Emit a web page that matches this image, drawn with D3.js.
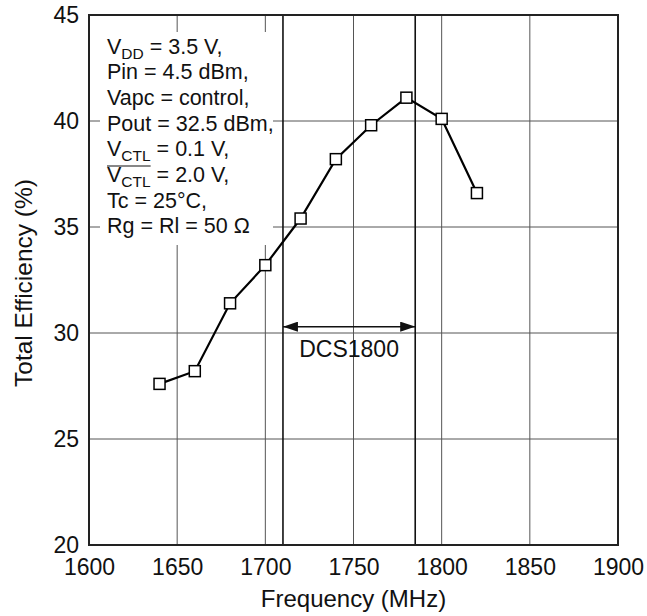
<!DOCTYPE html>
<html>
<head>
<meta charset="utf-8">
<script src="https://cdn.jsdelivr.net/npm/d3@7"></script>
<style>
  body { margin: 0; background: #fff; }
  text { font-family: "Liberation Sans", Arial, Helvetica, sans-serif; fill: #111; }
</style>
</head>
<body>
<div id="chart"></div>
<script>
// data
var freqs = [1640, 1660, 1680, 1700, 1720, 1740, 1760, 1780, 1800, 1820];
var effs = [27.6, 28.2, 31.4, 33.2, 35.4, 38.2, 39.8, 41.1, 40.1, 36.6];
var xTicks = [1600, 1650, 1700, 1750, 1800, 1850, 1900];
var yTicks = [20, 25, 30, 35, 40, 45];
var band = [1710, 1785];
var bandLabel = "DCS1800";
var bandLevel = 30.3;

// set the dimensions and margins of the graph
var margin = {top: 15, right: 29, bottom: 71, left: 89},
    width = 647 - margin.left - margin.right,
    height = 616 - margin.top - margin.bottom;

var svg = d3.select("#chart")
  .append("svg")
    .attr("width", 647)
    .attr("height", 616)
  .append("g")
    .attr("transform", "translate(" + margin.left + "," + margin.top + ")");

var x = d3.scaleLinear().domain([1600, 1900]).range([0, width]);
var y = d3.scaleLinear().domain([20, 45]).range([height, 0]);

// grid
svg.append("g")
  .selectAll("line")
  .data(xTicks.slice(1, -1))
  .enter()
  .append("line")
    .attr("x1", function(d) { return x(d); })
    .attr("x2", function(d) { return x(d); })
    .attr("y1", 0)
    .attr("y2", height)
    .attr("stroke", "#555")
    .attr("stroke-width", 1);

svg.append("g")
  .selectAll("line")
  .data(yTicks.slice(1, -1))
  .enter()
  .append("line")
    .attr("x1", 0)
    .attr("x2", width)
    .attr("y1", function(d) { return y(d); })
    .attr("y2", function(d) { return y(d); })
    .attr("stroke", "#555")
    .attr("stroke-width", 1);

// white box behind the conditions text
svg.append("rect")
  .attr("x", 11)
  .attr("y", 17)
  .attr("width", 173)
  .attr("height", 213)
  .attr("fill", "#fff");

// band edges
svg.append("g")
  .selectAll("line")
  .data(band)
  .enter()
  .append("line")
    .attr("x1", function(d) { return x(d); })
    .attr("x2", function(d) { return x(d); })
    .attr("y1", 0)
    .attr("y2", height)
    .attr("stroke", "#111")
    .attr("stroke-width", 1.6);

// axes (labels only, frame drawn below)
var xAxis = svg.append("g")
  .attr("transform", "translate(0," + height + ")")
  .call(d3.axisBottom(x).tickValues(xTicks).tickSize(0).tickPadding(14).tickFormat(d3.format("d")));
xAxis.select(".domain").remove();
xAxis.selectAll("text").style("font-size", "23px").attr("fill", "#111");

var yAxis = svg.append("g")
  .call(d3.axisLeft(y).tickValues(yTicks).tickSize(0).tickPadding(10));
yAxis.select(".domain").remove();
yAxis.selectAll("text").style("font-size", "23px").attr("fill", "#111");

// frame
svg.append("rect")
  .attr("x", 0)
  .attr("y", 0)
  .attr("width", width)
  .attr("height", height)
  .attr("fill", "none")
  .attr("stroke", "#222")
  .attr("stroke-width", 2);

// band arrow
svg.append("defs").append("marker")
  .attr("id", "arr")
  .attr("viewBox", "0 0 15 10")
  .attr("refX", 15)
  .attr("refY", 5)
  .attr("markerWidth", 15)
  .attr("markerHeight", 10)
  .attr("markerUnits", "userSpaceOnUse")
  .attr("orient", "auto-start-reverse")
  .append("path")
    .attr("d", "M0,0L15,5L0,10Z")
    .attr("fill", "#111");

svg.append("line")
  .attr("x1", x(band[0]))
  .attr("x2", x(band[1]))
  .attr("y1", y(bandLevel))
  .attr("y2", y(bandLevel))
  .attr("stroke", "#111")
  .attr("stroke-width", 1.5)
  .attr("marker-start", "url(#arr)")
  .attr("marker-end", "url(#arr)");

svg.append("text")
  .attr("x", (x(band[0]) + x(band[1])) / 2)
  .attr("y", y(bandLevel) + 30)
  .attr("text-anchor", "middle")
  .style("font-size", "23px")
  .text(bandLabel);

// efficiency curve
var line = d3.line()
  .x(function(d, i) { return x(freqs[i]); })
  .y(function(d) { return y(d); });

svg.append("path")
  .datum(effs)
  .attr("d", line)
  .attr("fill", "none")
  .attr("stroke", "#000")
  .attr("stroke-width", 2.2);

svg.selectAll("rect.pt")
  .data(effs)
  .enter()
  .append("rect")
    .attr("class", "pt")
    .attr("x", function(d, i) { return x(freqs[i]) - 5.5; })
    .attr("y", function(d) { return y(d) - 5.5; })
    .attr("width", 11)
    .attr("height", 11)
    .attr("fill", "#fff")
    .attr("stroke", "#000")
    .attr("stroke-width", 1.5);

// conditions text
var conds = [
  [["V", ""], ["DD", "sub"], [" = 3.5 V,", ""]],
  [["Pin = 4.5 dBm,", ""]],
  [["Vapc = control,", ""]],
  [["Pout = 32.5 dBm,", ""]],
  [["V", ""], ["CTL", "sub"], [" = 0.1 V,", ""]],
  [["V", ""], ["CTL", "sub"], [" = 2.0 V,", ""]],
  [["Tc = 25\u00b0C,", ""]],
  [["Rg = Rl = 50 \u03a9", ""]]
];

conds.forEach(function(parts, li) {
  var ty = 38.5 + li * 25.7;
  var t = svg.append("text")
    .attr("x", 18)
    .attr("y", ty)
    .style("font-size", "21.5px");
  var lead = 0;
  parts.forEach(function(p, pi) {
    var ts = t.append("tspan").text(p[0]);
    if (p[1] == "sub") {
      ts.attr("y", ty + 5).style("font-size", "15.5px");
    } else {
      ts.attr("y", ty);
    }
    if (pi < 2) lead += ts.node().getComputedTextLength();
  });
  // overline on the inverted control line
  if (li == 5) {
    svg.append("line")
      .attr("x1", 18)
      .attr("x2", 18 + lead)
      .attr("y1", ty - 16)
      .attr("y2", ty - 16)
      .attr("stroke", "#111")
      .attr("stroke-width", 1.2);
  }
});

// axis titles
svg.append("text")
  .attr("x", width / 2)
  .attr("y", height + 62)
  .attr("text-anchor", "middle")
  .style("font-size", "24px")
  .text("Frequency (MHz)");

svg.append("text")
  .attr("transform", "translate(" + (32 - margin.left) + "," + (height / 2 + 3) + ")rotate(-90)")
  .attr("text-anchor", "middle")
  .style("font-size", "24.5px")
  .text("Total Efficiency (%)");
</script>
</body>
</html>
